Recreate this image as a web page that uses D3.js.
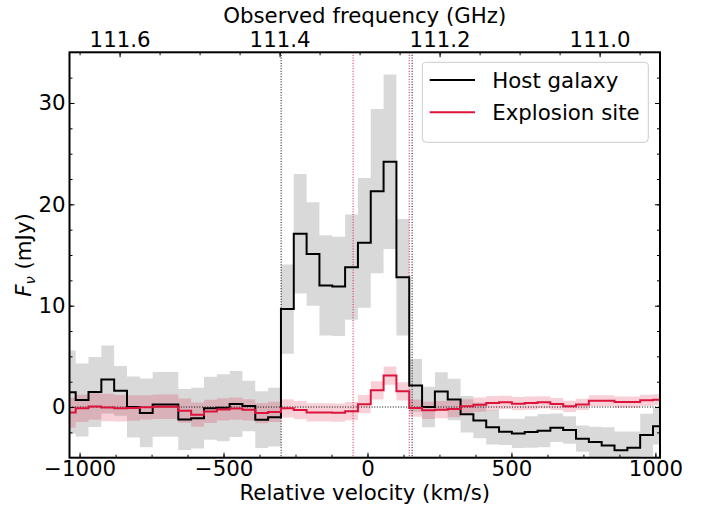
<!DOCTYPE html>
<html>
<head>
<meta charset="utf-8">
<script src="https://cdn.jsdelivr.net/npm/d3@7"></script>
<style>
  html, body { margin: 0; padding: 0; background: #fff; }
  svg { display: block; }
  text { font-family: "DejaVu Sans", sans-serif; }
</style>
</head>
<body>
<svg id="chart" width="708" height="509"></svg>
<script>
// ---------------- data ----------------
const velocity = [-1035.8, -991.2, -946.7, -902.1, -857.6, -813.0, -768.4, -723.9, -679.3, -634.8,
  -590.2, -545.6, -501.1, -456.5, -412.0, -367.4, -322.8, -278.3, -233.7, -189.2,
  -144.6, -100.0, -55.5, -10.9, 33.6, 78.2, 122.8, 167.3, 211.9, 256.4,
  301.0, 345.6, 390.1, 434.7, 479.2, 523.8, 568.4, 612.9, 657.5, 702.0,
  746.6, 791.2, 835.7, 880.3, 924.8, 969.4, 1014.0];

const hostFlux = [1.47, 0.70, 1.48, 2.72, 1.60, 0.00, -0.58, 0.26, 0.26, -1.23,
  -1.10, -0.12, -0.07, 0.30, 0.10, -1.25, -1.00, 9.66, 17.1, 15.1,
  12.0, 11.9, 13.8, 16.2, 21.3, 24.2, 12.8, 2.13, 0.00, 1.54,
  0.75, -0.72, -1.33, -2.00, -2.45, -2.60, -2.46, -2.33, -2.04, -2.27,
  -3.12, -3.45, -3.80, -4.27, -4.01, -2.76, -1.90];

const hostErr = [4.1, 3.6, 3.45, 3.35, 2.45, 3.0, 3.4, 3.2, 3.2, 3.0,
  3.0, 3.1, 3.3, 3.25, 2.5, 2.8, 2.9, 4.4, 5.9, 5.1,
  4.95, 4.9, 5.2, 6.4, 8.1, 8.6, 5.75, 2.6, 2.0, 1.9,
  2.05, 1.8, 1.75, 1.7, 1.3, 1.45, 1.55, 1.65, 1.4, 1.35,
  1.3, 1.5, 1.8, 1.85, 1.6, 2.1, 1.8];

const siteFlux = [-0.55, -0.13, 0.05, -0.05, -0.12, -0.10, -0.03, 0.03, 0.03, -0.36,
  -0.75, -0.43, -0.24, -0.15, -0.28, -0.60, -0.48, -0.13, -0.30, -0.53,
  -0.53, -0.56, -0.41, 0.28, 1.65, 3.10, 1.55, -0.10, -0.33, -0.26,
  -0.20, 0.07, 0.23, 0.39, 0.46, 0.33, 0.39, 0.46, 0.30, 0.07,
  0.26, 0.62, 0.62, 0.49, 0.49, 0.66, 0.72];

const siteErr = [1.5, 1.35, 1.3, 1.35, 1.3, 1.25, 1.2, 1.2, 1.2, 1.2,
  1.2, 1.15, 1.1, 1.1, 1.05, 1.0, 1.0, 0.9, 0.9, 0.9,
  0.9, 0.9, 0.9, 0.9, 0.9, 0.9, 0.9, 0.85, 0.85, 0.85,
  0.8, 0.7, 0.7, 0.7, 0.65, 0.65, 0.65, 0.6, 0.6, 0.55,
  0.55, 0.55, 0.55, 0.55, 0.55, 0.55, 0.55];

const velocityTicks = [-1000, -500, 0, 500, 1000];
const fluxTicks = [0, 10, 20, 30];
const freqTicks = [111.6, 111.4, 111.2, 111.0];
const hostMarkers = [-300, 155];   // black dotted verticals
const siteMarkers = [-50, 145];    // red dotted verticals
const legendLabels = ["Host galaxy", "Explosion site"];
const xTitle = "Relative velocity (km/s)";
const topTitle = "Observed frequency (GHz)";

// ---------------- layout ----------------
const FS = 21.3;
const m = { left: 69.5, right: 660, top: 52.3, bottom: 457.7 };
const svg = d3.select("#chart");

const x = d3.scaleLinear().domain([-1035, 1016]).range([m.left, m.right]);
const y = d3.scaleLinear().domain([-5, 35]).range([m.bottom, m.top]);
const xf = d3.scaleLinear().domain([111.6626, 110.9245]).range([m.left, m.right]);

const rows = velocity.map((v, i) => ({ v, h: hostFlux[i], he: hostErr[i], s: siteFlux[i], se: siteErr[i] }));

svg.append("defs").append("clipPath").attr("id", "clip")
  .append("rect").attr("x", m.left).attr("y", m.top)
  .attr("width", m.right - m.left).attr("height", m.bottom - m.top);

const plot = svg.append("g").attr("clip-path", "url(#clip)");

const hostBand = d3.area().curve(d3.curveStep)
  .x(d => x(d.v)).y0(d => y(d.h - d.he)).y1(d => y(d.h + d.he));
const siteBand = d3.area().curve(d3.curveStep)
  .x(d => x(d.v)).y0(d => y(d.s - d.se)).y1(d => y(d.s + d.se));
const hostLine = d3.line().curve(d3.curveStep).x(d => x(d.v)).y(d => y(d.h));
const siteLine = d3.line().curve(d3.curveStep).x(d => x(d.v)).y(d => y(d.s));

plot.append("path").attr("d", hostBand(rows)).attr("fill", "#000").attr("fill-opacity", 0.15);
plot.append("path").attr("d", siteBand(rows)).attr("fill", "#dc143c").attr("fill-opacity", 0.2);

// zero line
plot.append("line").attr("x1", m.left).attr("x2", m.right)
  .attr("y1", y(0)).attr("y2", y(0))
  .attr("stroke", "#000").attr("stroke-width", 1).attr("stroke-dasharray", "1,1.65");

// vertical markers
plot.selectAll(".hm").data(hostMarkers).join("line")
  .attr("x1", d => x(d)).attr("x2", d => x(d)).attr("y1", m.top).attr("y2", m.bottom)
  .attr("stroke", "#000").attr("stroke-width", 1).attr("stroke-dasharray", "1,1.65");
plot.selectAll(".sm").data(siteMarkers).join("line")
  .attr("x1", d => x(d)).attr("x2", d => x(d)).attr("y1", m.top).attr("y2", m.bottom)
  .attr("stroke", "#dc143c").attr("stroke-width", 1).attr("stroke-dasharray", "1,1.65");

plot.append("path").attr("d", hostLine(rows)).attr("fill", "none")
  .attr("stroke", "#000").attr("stroke-width", 2);
plot.append("path").attr("d", siteLine(rows)).attr("fill", "none")
  .attr("stroke", "#dc143c").attr("stroke-width", 2);

// ---------------- axes ----------------
function styleAxis(g) {
  g.select(".domain").remove();
  g.selectAll("line").attr("stroke", "#000").attr("stroke-width", 1);
  g.selectAll("text").attr("font-family", "DejaVu Sans").attr("font-size", FS).attr("fill", "#000");
}
const majLen = 5, minLen = 3;
const xMinor = d3.range(-1000, 1001, 125);
const yMinor = d3.range(-2.5, 35, 2.5);
const fMinor = d3.range(110.95, 111.66, 0.05);

// bottom
svg.append("g").attr("transform", `translate(0,${m.bottom})`)
  .call(d3.axisBottom(x).tickValues(xMinor).tickSize(-minLen).tickSizeOuter(0).tickFormat(""))
  .call(styleAxis);
svg.append("g").attr("transform", `translate(0,${m.bottom})`)
  .call(d3.axisBottom(x).tickValues(velocityTicks).tickSize(-majLen).tickSizeOuter(0).tickPadding(3.5).tickFormat(d3.format("d")))
  .call(styleAxis);
// left
svg.append("g").attr("transform", `translate(${m.left},0)`)
  .call(d3.axisLeft(y).tickValues(yMinor).tickSize(-minLen).tickSizeOuter(0).tickFormat(""))
  .call(styleAxis);
svg.append("g").attr("transform", `translate(${m.left},0)`)
  .call(d3.axisLeft(y).tickValues(fluxTicks).tickSize(-majLen).tickSizeOuter(0).tickPadding(4).tickFormat(d3.format("d")))
  .call(styleAxis);
// right
svg.append("g").attr("transform", `translate(${m.right},0)`)
  .call(d3.axisRight(y).tickValues(yMinor).tickSize(-minLen).tickSizeOuter(0).tickFormat(""))
  .call(styleAxis);
svg.append("g").attr("transform", `translate(${m.right},0)`)
  .call(d3.axisRight(y).tickValues(fluxTicks).tickSize(-majLen).tickSizeOuter(0).tickFormat(""))
  .call(styleAxis);
// top (frequency)
svg.append("g").attr("transform", `translate(0,${m.top})`)
  .call(d3.axisTop(xf).tickValues(fMinor).tickSize(-minLen).tickSizeOuter(0).tickFormat(""))
  .call(styleAxis);
svg.append("g").attr("transform", `translate(0,${m.top})`)
  .call(d3.axisTop(xf).tickValues(freqTicks).tickSize(-majLen).tickSizeOuter(0).tickPadding(5.5).tickFormat(d3.format(".1f")))
  .call(styleAxis);

// frame
svg.append("rect").attr("x", m.left).attr("y", m.top)
  .attr("width", m.right - m.left).attr("height", m.bottom - m.top)
  .attr("fill", "none").attr("stroke", "#000").attr("stroke-width", 2);

// titles
svg.append("text").attr("x", (m.left + m.right) / 2).attr("y", 500)
  .attr("text-anchor", "middle").attr("font-size", FS).text(xTitle);
svg.append("text").attr("x", (m.left + m.right) / 2).attr("y", 22.5)
  .attr("text-anchor", "middle").attr("font-size", FS).text(topTitle);

const yl = svg.append("text").attr("transform", `translate(31,${(m.top + m.bottom) / 2}) rotate(-90)`)
  .attr("text-anchor", "middle").attr("font-size", FS);
yl.append("tspan").attr("font-style", "italic").text("F");
yl.append("tspan").attr("font-style", "italic").attr("font-size", FS * 0.7).attr("dy", 4).text("ν");
yl.append("tspan").attr("dy", -4).text(" (mJy)");

// legend
const lg = svg.append("g");
lg.append("rect").attr("x", 422.3).attr("y", 62.3).attr("width", 226).attr("height", 80)
  .attr("rx", 4).attr("fill", "#fff").attr("fill-opacity", 0.8)
  .attr("stroke", "#cccccc").attr("stroke-width", 1);
const legendColors = ["#000", "#dc143c"];
legendLabels.forEach((lab, i) => {
  const yy = 80 + i * 32.3;
  lg.append("line").attr("x1", 429.7).attr("x2", 475).attr("y1", yy).attr("y2", yy)
    .attr("stroke", legendColors[i]).attr("stroke-width", 2);
  lg.append("text").attr("x", 492.3).attr("y", yy + 7.7).attr("font-size", FS).text(lab);
});
</script>
</body>
</html>
